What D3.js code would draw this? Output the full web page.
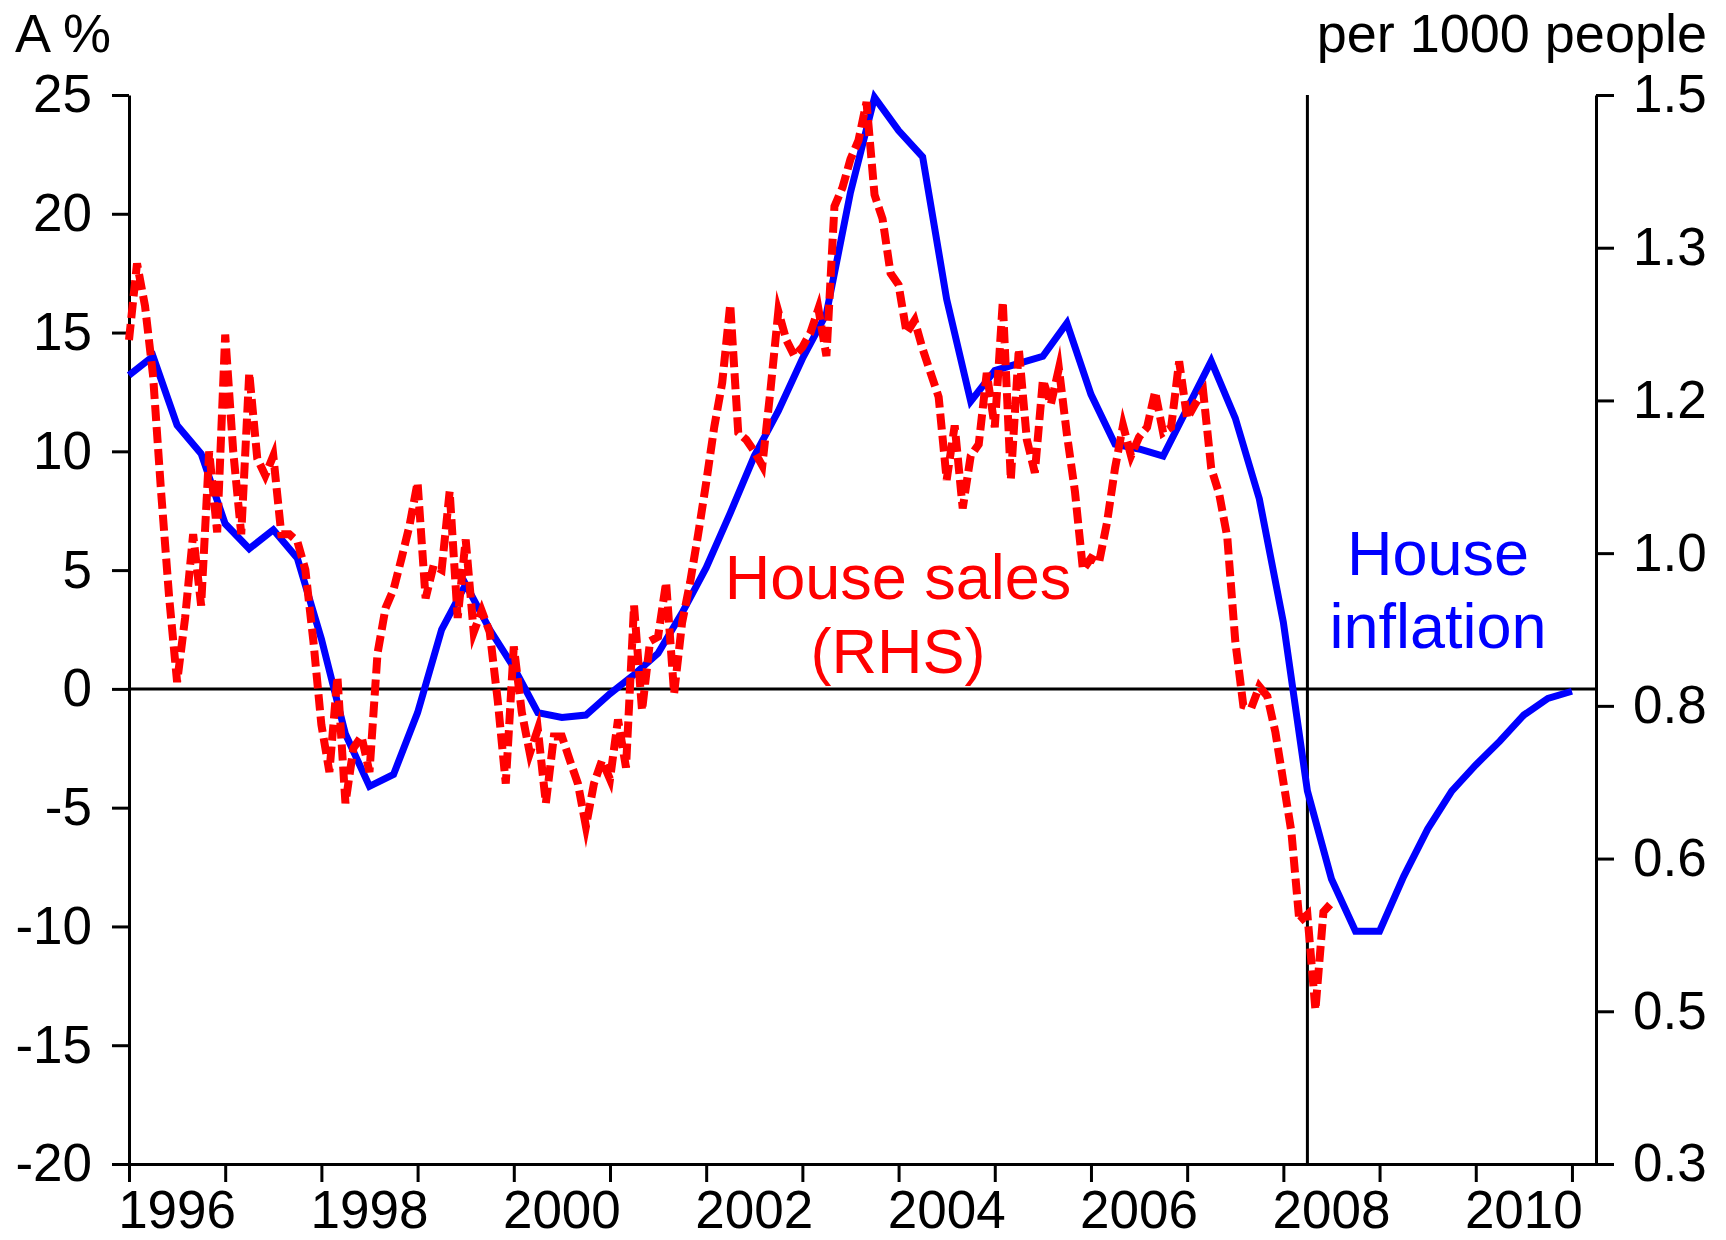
<!DOCTYPE html>
<html>
<head>
<meta charset="utf-8">
<script src="https://cdnjs.cloudflare.com/ajax/libs/d3/7.8.5/d3.min.js"></script>
<style>
	body { margin: 0; background: #fff; }
	svg text { font-family: "Liberation Sans", Arial, sans-serif; }
</style>
</head>
<body>
<div id="container"></div>
<script>
	var WIDTH = 1726;
	var HEIGHT = 1240;
	var LEFT = 129, RIGHT = 1596, TOP = 95, BOTTOM = 1164;

	// house price inflation, % y/y, quarterly from 1996 Q1
	var inflation = [13.2, 14.0, 11.1, 9.9, 6.95, 5.9, 6.7, 5.5, 2.1, -1.9,
		-4.1, -3.6, -1.0, 2.5, 4.4, 2.5, 0.9, -1.0, -1.2, -1.1,
		-0.2, 0.6, 1.5, 3.2, 5.1, 7.4, 9.8, 11.7, 13.9, 15.8,
		20.9, 24.9, 23.5, 22.4, 16.4, 12.1, 13.4, 13.7, 14.0, 15.4,
		12.4, 10.3, 10.1, 9.8, 11.8, 13.8, 11.4, 8.0, 2.8, -4.3,
		-8.0, -10.2, -10.2, -7.9, -5.9, -4.3, -3.2, -2.2, -1.1, -0.4, -0.1];

	// house sales per 1000 people (RHS), monthly from Jan 1996
	var sales = [1.225, 1.311, 1.263, 1.185, 1.055, 0.937, 0.841, 0.913, 1.007, 0.927,
		1.100, 1.009, 1.231, 1.100, 1.007, 1.188, 1.092, 1.073, 1.095, 1.007,
		1.007, 0.999, 0.967, 0.887, 0.793, 0.740, 0.847, 0.705, 0.767, 0.780,
		0.740, 0.873, 0.924, 0.945, 0.980, 1.017, 1.065, 0.935, 0.972, 0.967,
		1.055, 0.913, 1.001, 0.897, 0.921, 0.897, 0.820, 0.727, 0.881, 0.807,
		0.761, 0.788, 0.705, 0.780, 0.780, 0.753, 0.727, 0.679, 0.727, 0.753,
		0.732, 0.799, 0.745, 0.927, 0.809, 0.887, 0.892, 0.953, 0.828, 0.908,
		0.953, 1.007, 1.065, 1.127, 1.177, 1.265, 1.121, 1.113, 1.100, 1.084,
		1.167, 1.257, 1.225, 1.207, 1.217, 1.233, 1.260, 1.207, 1.375, 1.396,
		1.428, 1.449, 1.492, 1.388, 1.361, 1.300, 1.287, 1.233, 1.247, 1.215,
		1.188, 1.161, 1.068, 1.129, 1.036, 1.095, 1.108, 1.188, 1.127, 1.268,
		1.068, 1.215, 1.113, 1.076, 1.180, 1.153, 1.193, 1.119, 1.055, 0.967,
		0.980, 0.975, 1.020, 1.081, 1.129, 1.095, 1.116, 1.127, 1.167, 1.121,
		1.127, 1.201, 1.137, 1.153, 1.167, 1.081, 1.052, 1.004, 0.887, 0.815,
		0.812, 0.836, 0.825, 0.785, 0.729, 0.673, 0.572, 0.580, 0.473, 0.583, 0.593];

	var lhsTicks = [25, 20, 15, 10, 5, 0, -5, -10, -15, -20];
	var rhsLabels = ["0.3", "0.5", "0.6", "0.8", "1.0", "1.2", "1.3", "1.5"];
	var yearTicks = d3.range(1996, 2012);
	var yearLabels = ["1996", "1998", "2000", "2002", "2004", "2006", "2008", "2010"];
	var markerYear = 2008.25;

	var svg = d3.select('#container')
		.append('svg')
		.attr('width', WIDTH)
		.attr('height', HEIGHT);

	var x = d3.scaleLinear().domain([1996, 2011.25]).range([LEFT, RIGHT]);
	var y = d3.scaleLinear().domain([-20, 25]).range([BOTTOM, TOP]);
	var y2 = d3.scaleLinear().domain([0.3, 1.5]).range([BOTTOM, TOP]);

	var rhsTicks = rhsLabels.map(function(d, i){ return 0.3 + i * 1.2 / (rhsLabels.length - 1); });

	// axes
	var gl = svg.append('g')
		.attr('transform', 'translate(' + LEFT + ',0)')
		.call(d3.axisLeft(y).tickValues(lhsTicks).tickSize(17).tickSizeOuter(0).tickPadding(20)
			.tickFormat(function(d){ return String(d); }));

	var gr = svg.append('g')
		.attr('transform', 'translate(' + RIGHT + ',0)')
		.call(d3.axisRight(y2).tickValues(rhsTicks).tickSize(18).tickSizeOuter(0).tickPadding(19)
			.tickFormat(function(d, i){ return rhsLabels[i]; }));

	var gb = svg.append('g')
		.attr('transform', 'translate(0,' + BOTTOM + ')')
		.call(d3.axisBottom(x).tickValues(yearTicks).tickSize(18).tickSizeOuter(0).tickFormat(''));

	[gl, gr, gb].forEach(function(g){
		g.attr('font-family', null).attr('font-size', 53);
		g.selectAll('text').attr('fill', '#000');
		g.selectAll('line').attr('stroke', '#000').attr('stroke-width', 3);
		g.select('.domain').attr('stroke', '#000').attr('stroke-width', 3);
	});

	svg.append('g').selectAll('text')
		.data(yearLabels)
		.enter().append('text')
		.attr('x', function(d){ return x(+d + 0.5); })
		.attr('y', 1228)
		.attr('text-anchor', 'middle')
		.attr('font-size', 53)
		.text(function(d){ return d; });

	// zero line and marker
	svg.append('line')
		.attr('x1', LEFT).attr('x2', RIGHT)
		.attr('y1', y(0)).attr('y2', y(0))
		.attr('stroke', '#000').attr('stroke-width', 3);

	svg.append('line')
		.attr('x1', x(markerYear)).attr('x2', x(markerYear))
		.attr('y1', TOP).attr('y2', BOTTOM)
		.attr('stroke', '#000').attr('stroke-width', 3);

	// lines
	var blueLine = d3.line()
		.x(function(d, i){ return x(1996 + i / 4); })
		.y(function(d){ return y(d); });

	var redLine = d3.line()
		.x(function(d, i){ return x(1996 + i / 12); })
		.y(function(d){ return y2(d); });

	svg.append('path')
		.attr('d', blueLine(inflation))
		.attr('fill', 'none')
		.attr('stroke', '#0000ff')
		.attr('stroke-width', 7)
		.attr('stroke-linejoin', 'miter');

	svg.append('path')
		.attr('d', redLine(sales))
		.attr('fill', 'none')
		.attr('stroke', '#ff0000')
		.attr('stroke-width', 8)
		.attr('stroke-dasharray', '16,6')
		.attr('stroke-linejoin', 'miter')
		.attr('stroke-miterlimit', 6);

	// titles and labels
	svg.append('text').attr('x', 15).attr('y', 52).attr('font-size', 54).text('A %');
	svg.append('text').attr('x', 1707).attr('y', 52).attr('font-size', 54)
		.attr('text-anchor', 'end').text('per 1000 people');

	var labels = [
		{t: 'House sales', x: 898, y: 599, c: '#ff0000'},
		{t: '(RHS)', x: 898, y: 673, c: '#ff0000'},
		{t: 'House', x: 1438, y: 575, c: '#0000ff'},
		{t: 'inflation', x: 1438, y: 648, c: '#0000ff'}
	];
	svg.append('g').selectAll('text')
		.data(labels)
		.enter().append('text')
		.attr('x', function(d){ return d.x; })
		.attr('y', function(d){ return d.y; })
		.attr('text-anchor', 'middle')
		.attr('font-size', 63)
		.attr('fill', function(d){ return d.c; })
		.text(function(d){ return d.t; });
</script>
</body>
</html>
